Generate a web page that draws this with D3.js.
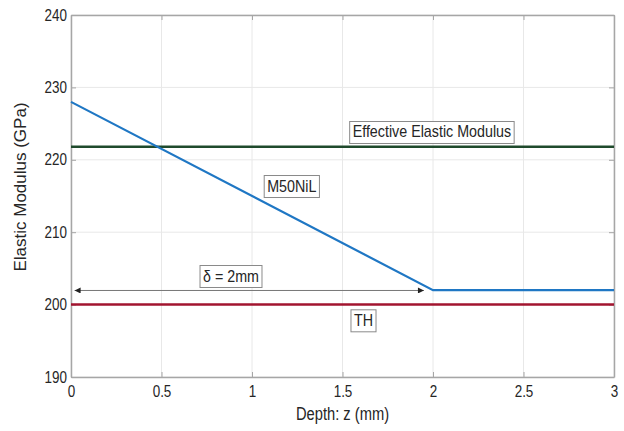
<!DOCTYPE html>
<html><head><meta charset="utf-8">
<script src="https://cdn.jsdelivr.net/npm/d3@7"></script>
<style>body{margin:0;background:#fff}svg{display:block}text{font-family:"Liberation Sans",Arial,sans-serif}</style>
</head><body><svg id="c" width="624" height="431"></svg>
<script>
const xTicks = [0, 0.5, 1, 1.5, 2, 2.5, 3];
const xTickLabels = ["0", "0.5", "1", "1.5", "2", "2.5", "3"];
const yTicks = [190, 200, 210, 220, 230, 240];
const m50nilDepth = [0, 2, 3];
const m50nilModulus = [228, 202, 202];
const effectiveModulus = 221.8;
const thModulus = 200;
const arrowDepth = [0.02, 1.95];
const arrowModulus = 201.95;
const labels = [
  {text: "Effective Elastic Modulus", x: 1.994, y: 223.84},
  {text: "M50NiL", x: 1.22, y: 216.38},
  {text: "δ = 2mm", x: 0.884, y: 203.95},
  {text: "TH", x: 1.616, y: 197.83}
];

const svg = d3.select("#c");
const L = 71, R = 614, T = 15, B = 377;
const x = d3.scaleLinear().domain([0, 3]).range([L, R]);
const y = d3.scaleLinear().domain([190, 240]).range([B, T]);
const condense = (sel, f) => sel.each(function () {
  const w = this.getComputedTextLength();
  if (w > 0) d3.select(this).attr("textLength", w * f).attr("lengthAdjust", "spacingAndGlyphs");
});

// grid
svg.append("g").selectAll("line").data(xTicks).join("line")
  .attr("x1", d => x(d)).attr("x2", d => x(d)).attr("y1", T).attr("y2", B)
  .attr("stroke", "#e8e8e8").attr("stroke-width", 1);
svg.append("g").selectAll("line").data(yTicks).join("line")
  .attr("y1", d => y(d)).attr("y2", d => y(d)).attr("x1", L).attr("x2", R)
  .attr("stroke", "#e8e8e8").attr("stroke-width", 1);

// axes
const axStyle = g => {
  g.select(".domain").attr("stroke", "#a6a6a6").attr("stroke-width", 1.5);
  g.selectAll(".tick line").attr("stroke", "#a6a6a6");
  g.selectAll("text").attr("fill", "#262626").attr("font-size", 16).call(condense, 0.84);
};
svg.append("g").attr("transform", `translate(0,${B})`)
  .call(d3.axisBottom(x).tickValues(xTicks).tickFormat((d, i) => xTickLabels[i]).tickSizeInner(-5).tickSizeOuter(0).tickPadding(9))
  .call(axStyle);
svg.append("g").attr("transform", `translate(0,${T})`)
  .call(d3.axisTop(x).tickValues(xTicks).tickFormat("").tickSizeInner(-5).tickSizeOuter(0))
  .call(axStyle);
svg.append("g").attr("transform", `translate(${L},0)`)
  .call(d3.axisLeft(y).tickValues(yTicks).tickSizeInner(-5).tickSizeOuter(0).tickPadding(4))
  .call(axStyle);
svg.append("g").attr("transform", `translate(${R},0)`)
  .call(d3.axisRight(y).tickValues(yTicks).tickFormat("").tickSizeInner(-5).tickSizeOuter(0))
  .call(axStyle);

// lines
svg.append("line").attr("x1", x(0)).attr("x2", x(3)).attr("y1", y(effectiveModulus)).attr("y2", y(effectiveModulus))
  .attr("stroke", "#1f4a2c").attr("stroke-width", 2.5);
svg.append("line").attr("x1", x(0)).attr("x2", x(3)).attr("y1", y(thModulus)).attr("y2", y(thModulus))
  .attr("stroke", "#a2142f").attr("stroke-width", 2.5);
const line = d3.line().x(d => x(d[0])).y(d => y(d[1]));
svg.append("path").datum(m50nilDepth.map((d, i) => [d, m50nilModulus[i]]))
  .attr("d", line).attr("fill", "none").attr("stroke", "#1f77c4").attr("stroke-width", 2.2);

// arrow
const defs = svg.append("defs");
defs.append("marker").attr("id", "ah").attr("viewBox", "0 0 10 10").attr("refX", 10).attr("refY", 5)
  .attr("markerWidth", 9).attr("markerHeight", 6).attr("orient", "auto-start-reverse").attr("markerUnits", "userSpaceOnUse")
  .append("path").attr("d", "M0,0L10,5L0,10z").attr("fill", "#222");
svg.append("line").attr("x1", x(arrowDepth[0])).attr("x2", x(arrowDepth[1]))
  .attr("y1", y(arrowModulus)).attr("y2", y(arrowModulus))
  .attr("stroke", "#777").attr("stroke-width", 1)
  .attr("marker-start", "url(#ah)").attr("marker-end", "url(#ah)");

// text boxes
labels.forEach(l => {
  const g = svg.append("g");
  const t = g.append("text").attr("x", x(l.x)).attr("y", y(l.y)).attr("text-anchor", "middle")
    .attr("dominant-baseline", "central").attr("font-size", 17)
    .attr("fill", "#262626").text(l.text).call(condense, 0.84);
  const bb = t.node().getBBox();
  g.insert("rect", "text").attr("x", bb.x - 3).attr("y", bb.y - 1).attr("width", bb.width + 6).attr("height", bb.height + 3)
    .attr("fill", "#fff").attr("stroke", "#8a8a8a").attr("stroke-width", 1);
});

// axis labels
svg.append("text").attr("x", x(1.5)).attr("y", 420).attr("text-anchor", "middle").attr("font-size", 17.5)
  .attr("fill", "#262626").text("Depth: z (mm)").call(condense, 0.84);
svg.append("text").attr("transform", `translate(26,187) rotate(-90)`).attr("text-anchor", "middle")
  .attr("font-size", 17).attr("fill", "#262626").text("Elastic Modulus (GPa)");
</script></body></html>
